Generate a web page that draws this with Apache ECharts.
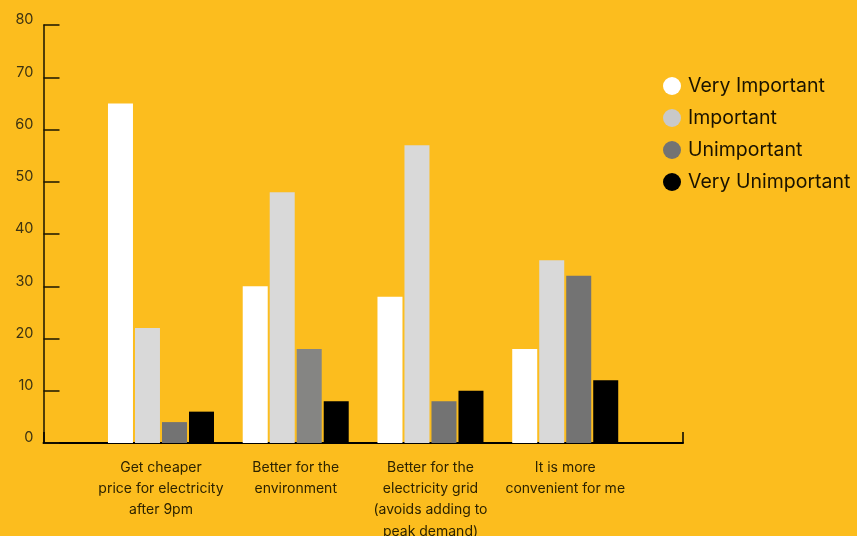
<!DOCTYPE html>
<html>
<head>
<meta charset="utf-8">
<script src="https://cdn.jsdelivr.net/npm/echarts@6/dist/echarts.min.js"></script>
<style>
html,body{margin:0;padding:0;background:#FCBD1E;}
#c{width:857px;height:536px;}
</style>
</head>
<body>
<div id="c"></div>
<script>
const categories = [
  "Get cheaper\nprice for electricity\nafter 9pm",
  "Better for the\nenvironment",
  "Better for the\nelectricity grid\n(avoids adding to\npeak demand)",
  "It is more\nconvenient for me"
];
const seriesNames = ["Very Important", "Important", "Unimportant", "Very Unimportant"];
const veryImportant = [65, 30, 28, 18];
const important = [22, 48, 57, 35];
const unimportant = [4, 18, 8, 32];
const veryUnimportant = [6, 8, 10, 12];
const yTicks = [0, 10, 20, 30, 40, 50, 60, 70, 80];

const colors = ["#FFFFFF", "#D9D9D9", "#737373", "#000000"];
const fontFam = "Inter, 'Noto Sans', sans-serif";

const chart = echarts.init(document.getElementById('c'), null, {renderer: 'canvas'});

function mk(name, data, idx) {
  return {
    name: name,
    type: 'bar',
    xAxisIndex: 0,
    yAxisIndex: 0,
    barWidth: 25,
    barGap: '8%',
    data: data.map((v, i) => {
      if (idx === 2 && i === 1) return {value: v, itemStyle: {color: '#858583'}};
      return v;
    }),
    itemStyle: {color: colors[idx]},
    emphasis: {disabled: true}
  };
}

chart.setOption({
  backgroundColor: '#FCBD1E',
  animation: false,
  legend: {
    orient: 'vertical',
    left: 658,
    top: 71,
    icon: 'circle',
    itemWidth: 18,
    itemHeight: 18,
    itemGap: 12,
    textStyle: {fontFamily: fontFam, fontSize: 19.5, color: '#1a1300', padding: [0, 0, 0, 2]},
    data: seriesNames.map((n, i) => ({name: n, itemStyle: {color: i === 1 ? '#C9C9C9' : colors[i]}}))
  },
  grid: [
    {left: 93.6, width: 539, top: 25, bottom: 93, outerBoundsMode: 'none', containLabel: false},
    {left: 43.5, right: 174, top: 25, bottom: 93, outerBoundsMode: 'none', containLabel: false}
  ],
  xAxis: [
    {
      type: 'category', gridIndex: 0, data: categories,
      axisLine: {show: false}, axisTick: {show: false},
      axisLabel: {fontFamily: fontFam, fontSize: 14, color: '#2d2300', lineHeight: 21.3, margin: 14, interval: 0}
    },
    {
      type: 'value', gridIndex: 1, min: 0, max: 1, interval: 1,
      axisLine: {show: true, lineStyle: {color: '#000', width: 2}},
      axisTick: {show: true, inside: true, length: 11, lineStyle: {color: '#000', width: 1.5}},
      axisLabel: {show: false}, splitLine: {show: false}
    }
  ],
  yAxis: [
    {type: 'value', gridIndex: 0, min: 0, max: 80, interval: 10, show: false},
    {
      type: 'value', gridIndex: 1, min: yTicks[0], max: yTicks[yTicks.length - 1], interval: 10,
      axisLine: {show: true, lineStyle: {color: '#1a1400', width: 1.5}},
      axisTick: {show: true, inside: true, length: 16, lineStyle: {color: '#1a1400', width: 1.5}},
      axisLabel: {fontFamily: fontFam, fontSize: 14.5, color: '#3d3312', margin: 10, verticalAlign: 'bottom', lineHeight: 10},
      splitLine: {show: false}
    }
  ],
  series: [
    mk(seriesNames[0], veryImportant, 0),
    mk(seriesNames[1], important, 1),
    mk(seriesNames[2], unimportant, 2),
    mk(seriesNames[3], veryUnimportant, 3)
  ]
});
</script>
</body>
</html>
